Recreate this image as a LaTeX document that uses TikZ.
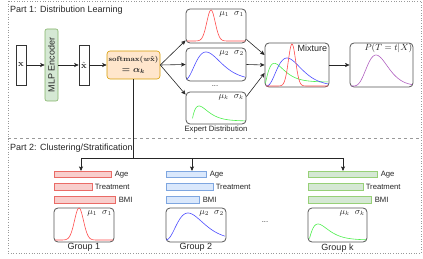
\documentclass[tikz,border=0pt]{standalone}
\usepackage{amsmath,amssymb}
\usepackage[no-math]{fontspec}
\setmainfont{Liberation Sans}
\usepackage{tikz}
\usetikzlibrary{positioning,calc,arrows.meta}
\definecolor{boxline}{HTML}{555555}
\definecolor{frameline}{HTML}{999999}
\definecolor{redc}{HTML}{FF4D4D}
\definecolor{bluec}{HTML}{4D4DFF}
\definecolor{greenc}{HTML}{4DEE4D}
\definecolor{purplec}{HTML}{B060C0}
\definecolor{mlpfill}{HTML}{D5E8D4}
\definecolor{mlpline}{HTML}{82B366}
\definecolor{softfill}{HTML}{FFE6CC}
\definecolor{softline}{HTML}{D79B00}
\definecolor{redfill}{HTML}{F8CECC}
\definecolor{redline}{HTML}{EA6B66}
\definecolor{bluefill}{HTML}{DAE8FC}
\definecolor{blueline}{HTML}{7EA6E0}
\definecolor{greenfill}{HTML}{D5E8D4}
\definecolor{greenline}{HTML}{97D077}

\begin{document}
\begin{tikzpicture}[x=1pt, y=-1pt, font=\fontsize{9}{10.8}\selectfont, text=black!85,
  conn/.style={-{Stealth[length=4.5pt,width=4pt,inset=1pt]}, line width=0.6pt, draw=black!85},
  wire/.style={line width=0.6pt, draw=black!85},
  vecbox/.style={draw=black!80, line width=0.6pt, minimum width=10pt, minimum height=40pt, inner sep=0pt},
  distbox/.style={draw=boxline, line width=0.8pt, rounded corners=4pt, minimum width=60pt, minimum height=34pt, inner sep=0pt},
  barbox/.style={line width=0.6pt, minimum height=6.5pt, inner sep=0pt, anchor=west},
  smalltxt/.style={font=\fontsize{7.7}{9}\selectfont},
  mathtxt/.style={font=\fontsize{8.8}{10}\selectfont, anchor=north east, inner sep=2.5pt},
  pen/.style={line width=0.6pt}]
  \useasboundingbox (0,0) rectangle (423,259);

  % Frame of the two parts
  \draw[frameline, dotted, line width=0.6pt] (8,1) rectangle (421,253);
  \draw[frameline, dashed, line width=0.5pt] (8,138) -- (421,138);
  \node[anchor=west, inner sep=0pt] (part1) at (10,10) {Part 1: Distribution Learning};
  \node[anchor=west, inner sep=0pt] (part2) at (10,148) {Part 2: Clustering/Stratification};

  % Encoder chain
  \node[vecbox] (xin) at (21,65) {\small $\mathbf{x}$};
  \node[draw=mlpline, fill=mlpfill, line width=0.6pt, rounded corners=2pt, rotate=90,
        minimum width=72pt, minimum height=13pt, inner sep=0pt] (mlp) at (51.5,65) {MLP Encoder};
  \node[vecbox] (xhat) at (84,65) {\small $\hat{\mathbf{x}}$};
  \node[draw=softline, fill=softfill, line width=0.6pt, rounded corners=3pt, align=center,
        minimum width=53pt, minimum height=28pt, inner sep=0pt,
        font=\fontsize{6.8}{8}\selectfont] (soft) at (133.5,65)
        {$\boldsymbol{\mathrm{softmax}(w\hat{\mathbf{x}})}$\\[3pt]{\fontsize{9}{10}\selectfont$\boldsymbol{=\alpha_k}$}};
  \draw[conn] (xin) -- (mlp);
  \draw[conn] (mlp) -- (xhat);
  \draw[conn] (xhat) -- (soft);

  % Expert distributions
  \node[distbox] (exp1) at (216,26) {};
  \node[distbox, minimum height=33pt] (exp2) at (216,64.5) {};
  \node[distbox, minimum height=32pt] (exp3) at (216,108) {};
  \node[mathtxt] (lab1) at (exp1.north east) {$\mu_1\;\;\sigma_1$};
  \node[mathtxt] (lab2) at (exp2.north east) {$\mu_2\;\;\sigma_2$};
  \node[mathtxt] (lab3) at (exp3.north east) {$\mu_k\;\;\sigma_k$};
  \node[smalltxt, inner sep=0pt] (dots1) at (215,86) {...};
  \node[smalltxt, inner sep=0pt] (expname) at (216,130) {Expert Distribution};
  \draw[redc, pen] plot[domain=187:245, samples=80, smooth] (\x,{41-31*exp(-0.5*((\x-211)/4.2)^2)});
  \draw[bluec, pen] plot[domain=186.5:245, samples=60, smooth] (\x,{80-28*((\x-184)/22)^3*exp(3*(1-(\x-184)/22))});
  \draw[greenc, pen] plot[domain=192.5:245, samples=60, smooth] (\x,{121-15*((\x-192)/7)*exp(1-(\x-192)/7)});
  \draw[conn] (soft.east) -- ($(exp1.south west)+(0,-3)$);
  \draw[conn] (soft.east) -- (exp2.west);
  \draw[conn] (soft.east) -- ($(exp3.north west)+(0,3)$);

  % Mixture and output
  \node[distbox, minimum width=64pt, minimum height=44pt] (mix) at (297,65) {};
  \node[distbox, minimum width=63pt, minimum height=44pt] (pbox) at (381.5,65) {};
  \node[anchor=north east, inner sep=2pt] (mixlab) at (mix.north east) {Mixture};
  \node[anchor=north east, inner sep=1pt] (plab) at (pbox.north east) {$P(T=t|X)$};
  \draw[greenc, pen] plot[domain=265.5:328, samples=70, smooth] (\x,{85-3*(1-exp((265-\x)/4))-19*((\x-265)/9)^1.3*exp(1.3*(1-(\x-265)/9))});
  \draw[bluec, pen] plot[domain=266.5:328, samples=60, smooth] (\x,{86-28*((\x-266)/21)^3*exp(3*(1-(\x-266)/21))});
  \draw[redc, pen] plot[domain=266:328, samples=90, smooth] (\x,{86-42*exp(-0.5*((\x-292)/3.6)^2)});
  \draw[purplec, pen] plot[domain=351:412, samples=60, smooth] (\x,{86-31*((\x-350)/26)^6*exp(6*(1-(\x-350)/26))});
  \draw[conn] ($(exp1.south east)+(0,-4)$) -- ($(mix.west)+(0,-10)$);
  \draw[conn] (exp2.east) -- (mix.west);
  \draw[conn] ($(exp3.north east)+(0,5)$) -- ($(mix.west)+(0,8)$);
  \draw[conn] (mix) -- (pbox);

  % Groups: feature bars
  \node[barbox, draw=redline, fill=redfill, minimum width=57pt] (age1) at (54,174.5) {};
  \node[barbox, draw=redline, fill=redfill, minimum width=38pt] (trt1) at (54,187) {};
  \node[barbox, draw=redline, fill=redfill, minimum width=61pt] (bmi1) at (54,200) {};
  \node[barbox, draw=blueline, fill=bluefill, minimum width=40pt] (age2) at (166,174.5) {};
  \node[barbox, draw=blueline, fill=bluefill, minimum width=47pt] (trt2) at (166,187) {};
  \node[barbox, draw=blueline, fill=bluefill, minimum width=33pt] (bmi2) at (166,200) {};
  \node[barbox, draw=greenline, fill=greenfill, minimum width=69pt] (agek) at (308,174.5) {};
  \node[barbox, draw=greenline, fill=greenfill, minimum width=55pt] (trtk) at (308,187) {};
  \node[barbox, draw=greenline, fill=greenfill, minimum width=63pt] (bmik) at (308,200) {};
  \node[right=3pt of age1, smalltxt, inner sep=0pt] {Age};
  \node[right=2pt of trt1, smalltxt, inner sep=0pt] {Treatment};
  \node[right=3pt of bmi1, smalltxt, inner sep=0pt] {BMI};
  \node[right=3pt of age2, smalltxt, inner sep=0pt] {Age};
  \node[right=2pt of trt2, smalltxt, inner sep=0pt] {Treatment};
  \node[right=3pt of bmi2, smalltxt, inner sep=0pt] {BMI};
  \node[right=3pt of agek, smalltxt, inner sep=0pt] {Age};
  \node[right=2pt of trtk, smalltxt, inner sep=0pt] {Treatment};
  \node[right=3pt of bmik, smalltxt, inner sep=0pt] {BMI};

  % Groups: cluster distributions
  \node[distbox] (g1) at (84,225) {};
  \node[distbox] (g2) at (196,225) {};
  \node[distbox, minimum width=59pt] (gk) at (337.5,225) {};
  \node[mathtxt] at (g1.north east) {$\mu_1\;\;\sigma_1$};
  \node[mathtxt] at (g2.north east) {$\mu_2\;\;\sigma_2$};
  \node[mathtxt] at (gk.north east) {$\mu_k\;\;\sigma_k$};
  \node[below=1pt of g1, inner sep=0pt] {Group 1};
  \node[below=1pt of g2, inner sep=0pt] {Group 2};
  \node[below=1pt of gk, inner sep=0pt] {Group k};
  \node[smalltxt, inner sep=0pt] (dots2) at (265,222) {...};
  \draw[redc, pen] plot[domain=55:113, samples=80, smooth] (\x,{240-32*exp(-0.5*((\x-79)/4.5)^2)});
  \draw[bluec, pen] plot[domain=166:225, samples=60, smooth] (\x,{240-27*((\x-165)/23)^3*exp(3*(1-(\x-165)/23))});
  \draw[greenc, pen] plot[domain=309.5:366, samples=60, smooth] (\x,{240-16*((\x-309)/9)^1.2*exp(1.2*(1-(\x-309)/9))});

  % Routing from the gate to the groups
  \coordinate (hub) at (soft.south |- 0,158);
  \coordinate (t1) at (81,158);
  \coordinate (t2) at (192,158);
  \coordinate (tk) at (343,158);
  \draw[wire] (soft.south) -- (hub);
  \draw[wire] (t1) -- (tk);
  \draw[conn] (t1) -- (t1 |- age1.north);
  \draw[conn] (t2) -- (t2 |- age2.north);
  \draw[conn] (tk) -- (tk |- agek.north);
\end{tikzpicture}
\end{document}
